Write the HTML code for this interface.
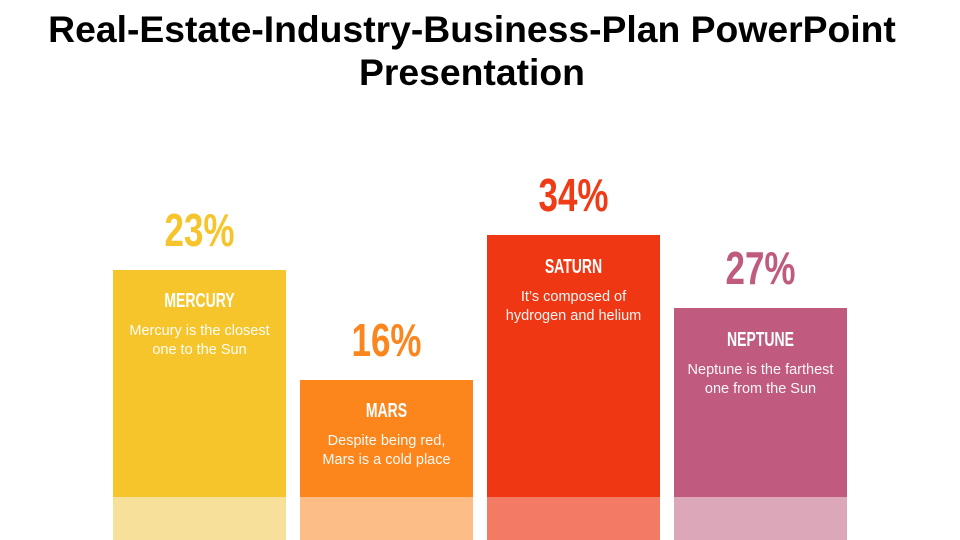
<!DOCTYPE html>
<html><head><style>
body{margin:0;width:960px;height:540px;background:#fff;position:relative;overflow:hidden;font-family:"Liberation Sans",sans-serif}
h1{position:absolute;top:8px;left:0;width:944px;margin:0;text-align:center;font-size:37.3px;line-height:43px;font-weight:bold;color:#000;white-space:nowrap}
.bar{position:absolute;width:173px;bottom:0}
.light{position:absolute;left:0;right:0;bottom:0;height:43px}
.pct{position:absolute;width:173px;text-align:center;font-size:46px;font-weight:bold;line-height:50px;transform:scaleX(0.76)}
.t{position:absolute;left:0;right:0;text-align:center;color:#fff;font-weight:bold;font-size:20px;transform:scaleX(0.7);line-height:20px}
.d{position:absolute;left:0;right:0;text-align:center;color:#fff;font-size:14.5px;line-height:19px;opacity:.95}
</style></head><body>
<h1>Real-Estate-Industry-Business-Plan PowerPoint<br>Presentation</h1>

<div class="pct" style="left:113px;top:205px;color:#F6C42C">23%</div>
<div class="bar" style="left:113px;top:270px;background:#F6C52B">
 <div class="t" style="top:21px">MERCURY</div>
 <div class="d" style="top:52px">Mercury is the closest<br>one to the Sun</div>
 <div class="light" style="background:#F7E09A"></div></div>

<div class="pct" style="left:300px;top:315px;color:#FB861E">16%</div>
<div class="bar" style="left:300px;top:380px;background:#FC861C">
 <div class="t" style="top:21px">MARS</div>
 <div class="d" style="top:52px">Despite being red,<br>Mars is a cold place</div>
 <div class="light" style="background:#FCBE86"></div></div>

<div class="pct" style="left:487px;top:170px;color:#EF3C16">34%</div>
<div class="bar" style="left:487px;top:235px;background:#EF3813">
 <div class="t" style="top:22px">SATURN</div>
 <div class="d" style="top:53px">It’s composed of<br>hydrogen and helium</div>
 <div class="light" style="background:#F37A63"></div></div>

<div class="pct" style="left:674px;top:243px;color:#C05B7F">27%</div>
<div class="bar" style="left:674px;top:308px;background:#C05A7E">
 <div class="t" style="top:22px">NEPTUNE</div>
 <div class="d" style="top:53px">Neptune is the farthest<br>one from the Sun</div>
 <div class="light" style="background:#DDA7BA"></div></div>
</body></html>
